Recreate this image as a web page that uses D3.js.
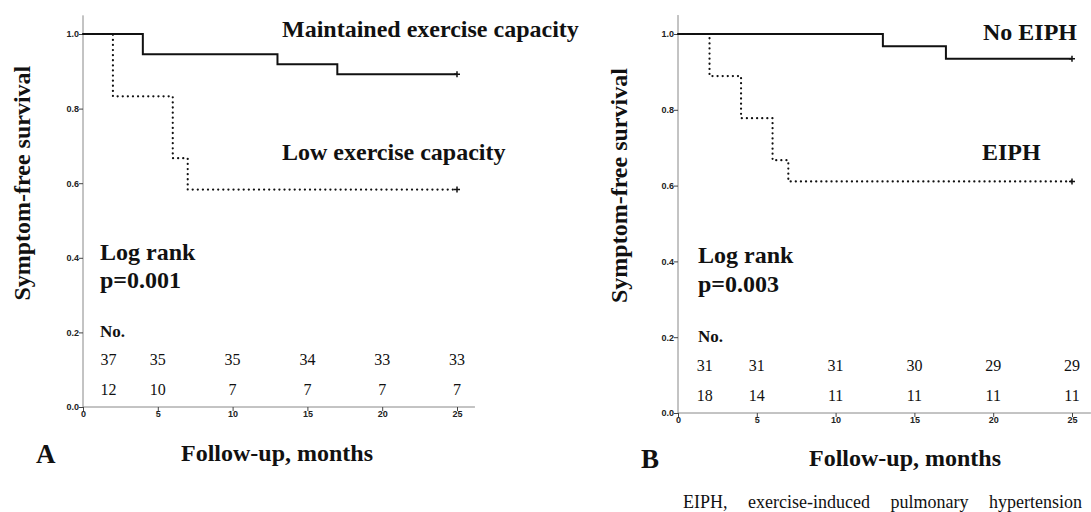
<!DOCTYPE html>
<html>
<head>
<meta charset="utf-8">
<script src="https://cdn.jsdelivr.net/npm/d3@7"></script>
<style>
  body { margin: 0; background: #fff; }
  svg { display: block; }
  .serif { font-family: "Liberation Serif", "Times New Roman", serif; font-weight: bold; fill: #111; }
  .caption { font-family: "Liberation Serif", "Times New Roman", serif; font-weight: normal; fill: #111; }
  .tick text { font-family: "Liberation Sans", Arial, sans-serif; font-weight: bold; font-size: 9px; fill: #222; }
  .domain { stroke: #888; }
  .tick line { stroke: #444; }
</style>
</head>
<body>
<div id="chart"></div>
<script>
// Panel A: exercise capacity
let timesMaintained = [0, 4, 13, 17, 25];
let survMaintained = [1, 0.946, 0.919, 0.892, 0.892];
let timesLow = [0, 2, 6, 7, 25];
let survLow = [1, 0.833, 0.667, 0.583, 0.583];
let riskMaintained = [37, 35, 35, 34, 33, 33];
let riskLow = [12, 10, 7, 7, 7, 7];

// Panel B: EIPH
let timesNoEIPH = [0, 13, 17, 25];
let survNoEIPH = [1, 0.968, 0.935, 0.935];
let timesEIPH = [0, 2, 4, 6, 7, 25];
let survEIPH = [1, 0.889, 0.778, 0.667, 0.611, 0.611];
let riskNoEIPH = [31, 31, 31, 30, 29, 29];
let riskEIPH = [18, 14, 11, 11, 11, 11];

let riskMonths = [1.7, 5, 10, 15, 20, 25];
let xTicks = [0, 5, 10, 15, 20, 25];
let yTicks = [0, 0.2, 0.4, 0.6, 0.8, 1.0];

let width = 1091;
let height = 512;

let svg = d3
  .select("#chart")
  .append("svg")
  .attr("width", width)
  .attr("height", height);

let panels = [
  {
    letter: "A", x0: 83, x1: 457, y0: 407, y1: 34, xEnd: 26.2,
    solid: { t: timesMaintained, s: survMaintained, label: "Maintained exercise capacity", lx: 282, ly: 37 },
    dotted: { t: timesLow, s: survLow, label: "Low exercise capacity", lx: 282, ly: 160 },
    riskTop: riskMaintained, riskBottom: riskLow, p: "p=0.001",
    textX: 100, yLabelX: 30, letterX: 36, xLabelY: 461
  },
  {
    letter: "B", x0: 678, x1: 1072, y0: 413, y1: 34, xEnd: 26.2,
    solid: { t: timesNoEIPH, s: survNoEIPH, label: "No EIPH", lx: 983, ly: 40 },
    dotted: { t: timesEIPH, s: survEIPH, label: "EIPH", lx: 982, ly: 160 },
    riskTop: riskNoEIPH, riskBottom: riskEIPH, p: "p=0.003",
    textX: 698, yLabelX: 627, letterX: 641, xLabelY: 466
  }
];

panels.forEach(function(p) {
  let xScale = d3.scaleLinear().domain([0, 25]).range([p.x0, p.x1]);
  let yScale = d3.scaleLinear().domain([0, 1]).range([p.y0, p.y1]);

  let g = svg.append("g");

  /* Axes */
  let xAxis = d3.axisBottom(xScale).tickValues(xTicks).tickSize(4).tickSizeOuter(0).tickFormat(d3.format("d"));
  let yAxis = d3.axisLeft(yScale).tickValues(yTicks).tickSize(4).tickSizeOuter(0).tickFormat(d3.format(".1f"));

  let xg = g.append("g")
    .attr("transform", `translate(0, ${p.y0})`)
    .call(xAxis);
  xg.select(".domain").attr("d", `M${p.x0},0H${xScale(p.xEnd)}`);
  xg.selectAll(".tick text").attr("dy", "0.55em").attr("y", 5);

  let yg = g.append("g")
    .attr("transform", `translate(${p.x0}, 0)`)
    .call(yAxis);
  yg.select(".domain").attr("d", `M0,${p.y0}V${yScale(1.05)}`);
  yg.selectAll(".tick text").attr("x", -4);

  /* Survival curves */
  let line = d3.line()
    .x(d => xScale(d[0]))
    .y(d => yScale(d[1]))
    .curve(d3.curveStepAfter);

  [p.solid, p.dotted].forEach(function(c, i) {
    let pts = c.t.map((t, k) => [t, c.s[k]]);
    g.append("path")
      .attr("d", line(pts))
      .attr("fill", "none")
      .attr("stroke", "#111")
      .attr("stroke-width", i === 0 ? 2 : 2.2)
      .attr("stroke-dasharray", i === 0 ? null : "0.1,5")
      .attr("stroke-linecap", i === 0 ? "butt" : "round");

    // censor mark at end
    let last = pts[pts.length - 1];
    let cx = xScale(last[0]), cy = yScale(last[1]);
    g.append("path")
      .attr("d", `M${cx - 3},${cy}H${cx + 3}M${cx},${cy - 3}V${cy + 3}`)
      .attr("stroke", "#111")
      .attr("stroke-width", 1.5);

    g.append("text")
      .attr("class", "serif")
      .attr("x", c.lx)
      .attr("y", c.ly)
      .style("font-size", "24px")
      .text(c.label);
  });

  /* Log rank */
  g.append("text").attr("class", "serif").attr("x", p.textX).attr("y", yScale(0.395))
    .style("font-size", "24px").text("Log rank");
  g.append("text").attr("class", "serif").attr("x", p.textX).attr("y", yScale(0.32))
    .style("font-size", "24px").text(p.p);

  /* Numbers at risk */
  g.append("text").attr("class", "serif").attr("x", p.textX).attr("y", yScale(0.2) + 5)
    .style("font-size", "17px").text("No.");

  [p.riskTop, p.riskBottom].forEach(function(row, r) {
    g.selectAll(null)
      .data(row)
      .enter()
      .append("text")
      .attr("class", "serif")
      .attr("x", (d, i) => xScale(riskMonths[i]))
      .attr("y", yScale(r === 0 ? 0.125 : 0.045) + 5)
      .attr("text-anchor", "middle")
      .style("font-size", "16px")
      .style("font-weight", "normal")
      .text(d => d);
  });

  /* Axis titles */
  g.append("text")
    .attr("class", "serif")
    .attr("transform", `translate(${p.yLabelX}, ${yScale(0.6)}) rotate(-90)`)
    .attr("text-anchor", "middle")
    .style("font-size", "24px")
    .text("Symptom-free survival");

  g.append("text")
    .attr("class", "serif")
    .attr("x", (p.x0 + p.x1) / 2 + (p.letter === "A" ? 7 : 30))
    .attr("y", p.xLabelY)
    .attr("text-anchor", "middle")
    .style("font-size", "24px")
    .text("Follow-up, months");

  g.append("text")
    .attr("class", "serif")
    .attr("x", p.letterX)
    .attr("y", p.xLabelY + 2)
    .style("font-size", "27px")
    .text(p.letter);
});

svg.append("text")
  .attr("class", "caption")
  .attr("x", 683)
  .attr("y", 508)
  .style("font-size", "18px")
  .style("word-spacing", "16px")
  .text("EIPH, exercise-induced pulmonary hypertension");
</script>
</body>
</html>
